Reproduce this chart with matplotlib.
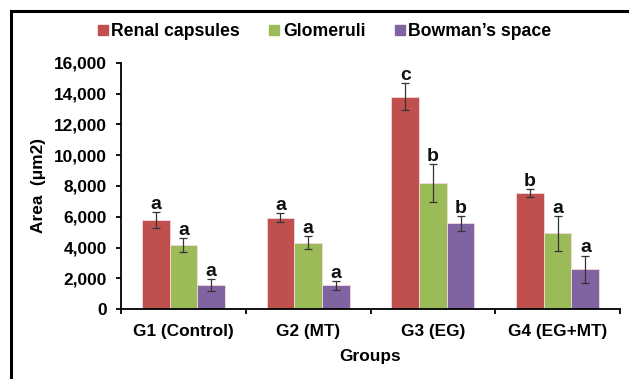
import matplotlib
matplotlib.use("Agg")
import matplotlib.pyplot as plt
from matplotlib.lines import Line2D
import numpy as np

groups = ["G1 (Control)", "G2 (MT)", "G3 (EG)", "G4 (EG+MT)"]
series = ["Renal capsules", "Glomeruli", "Bowman\u2019s space"]
renal = [5770, 5945, 13800, 7570]
renal_err = [520, 300, 880, 260]
glom = [4170, 4320, 8180, 4930]
glom_err = [435, 430, 1250, 1120]
bowman = [1560, 1560, 5580, 2600]
bowman_err = [390, 280, 490, 890]
letters_renal = ["a", "a", "c", "b"]
letters_glom = ["a", "a", "b", "a"]
letters_bowman = ["a", "a", "b", "a"]
yticks = [0, 2000, 4000, 6000, 8000, 10000, 12000, 14000, 16000]

colors = ["#C0504D", "#9BBB59", "#8064A2"]

plt.rcParams['font.family'] = ['Liberation Sans', 'DejaVu Sans']
plt.rcParams['font.weight'] = 'bold'

fig = plt.figure(figsize=(6.29, 3.79), dpi=100)
ax = fig.add_axes([0.1924, 0.1839, 0.7933, 0.6507])

x = np.arange(len(groups))
w = 0.222
vals = [renal, glom, bowman]
errs = [renal_err, glom_err, bowman_err]
lets = [letters_renal, letters_glom, letters_bowman]
for i in range(3):
    pos = x + (i - 1) * w
    ax.bar(pos, vals[i], width=w, color=colors[i], edgecolor="#F4DADA", linewidth=0.6,
           label=series[i], zorder=2)
    ax.errorbar(pos, vals[i], yerr=errs[i], fmt="none", ecolor="#333333",
                elinewidth=0.9, capsize=2.9, capthick=0.9, zorder=3)
    for p, v, e, l in zip(pos, vals[i], errs[i], lets[i]):
        ax.text(p, v + e + 200, l, ha="center", va="baseline", fontsize=14,
                fontweight="bold", color="#111111")

ax.set_xlim(-0.5, 3.5)
ax.set_ylim(0, 16000)
ax.set_yticks(yticks)
ax.set_yticklabels([f"{t:,}" for t in yticks], fontsize=12.4, fontweight="bold")
ax.set_xticks(x)
ax.set_xticklabels(groups, fontsize=12.4, fontweight="bold")
ax.tick_params(axis="x", length=0, pad=10.8)
ax.set_xticks(np.arange(-0.5, 4.0, 1.0), minor=True)
ax.tick_params(axis="x", which="minor", length=3.5, width=1.3, direction="out")
ax.tick_params(axis="y", length=3.5, width=1.3, direction="out", pad=6.5)
for s in ["top", "right"]:
    ax.spines[s].set_visible(False)
for s in ["left", "bottom"]:
    ax.spines[s].set_linewidth(1.3)
ax.set_xlabel("Groups", fontsize=12.4, fontweight="bold", labelpad=7.1)
ax.set_ylabel("Area  (\u03bcm2)", fontsize=12.4, fontweight="bold", labelpad=5.5)

handles = [Line2D([0], [0], marker="s", linestyle="none", markersize=7.3,
                  markerfacecolor=c, markeredgecolor=c) for c in colors]
fig.legend(handles, series, loc="center", bbox_to_anchor=(0.516, 0.9156), ncol=3,
           frameon=False, handletextpad=0.2, columnspacing=1.65,
           handlelength=0.57, prop={"weight": "bold", "size": 12.7})

fig.add_artist(Line2D([11 / 629, 1.0], [1 - 10.7 / 379, 1 - 10.7 / 379],
                      transform=fig.transFigure, color="black", linewidth=2.2))
fig.add_artist(Line2D([11 / 629, 11 / 629], [0, 1 - 10.7 / 379],
                      transform=fig.transFigure, color="black", linewidth=2.2))

fig.savefig("out.png", dpi=100)
